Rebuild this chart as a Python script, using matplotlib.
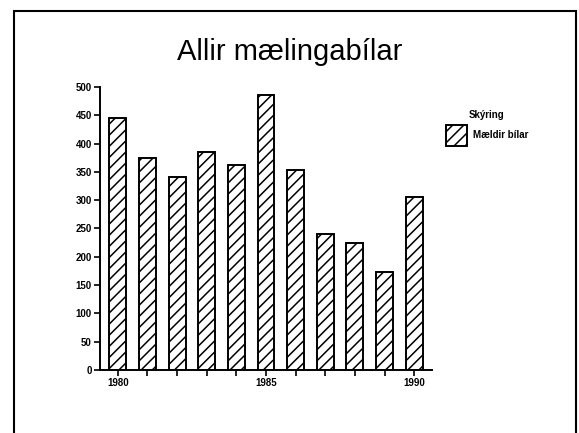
import matplotlib
matplotlib.use("Agg")
from matplotlib import pyplot as plt
from matplotlib.patches import Rectangle

years = [1980, 1981, 1982, 1983, 1984, 1985, 1986, 1987, 1988, 1989, 1990]
values = [446, 374, 341, 386, 362, 486, 354, 241, 224, 174, 306]
year_labels = ["1980", "", "", "", "", "1985", "", "", "", "", "1990"]
yticks = [0, 50, 100, 150, 200, 250, 300, 350, 400, 450, 500]

plt.rcParams['font.family'] = ['Liberation Sans', 'DejaVu Sans']
plt.rcParams['hatch.linewidth'] = 1.1

fig = plt.figure(figsize=(5.79, 4.33), dpi=100)

# slide frame
fig.patches.append(Rectangle((14/579, -0.05), (576-14)/579, 1.05 - 11/433,
                             transform=fig.transFigure, fill=False,
                             edgecolor="black", linewidth=1.5))

fig.text(0.5, 1 - 52/433, "Allir mælingabílar", ha="center", va="center",
         fontsize=21)

ax = fig.add_axes([100/579, 1 - 370/433, (432-100)/579, (370-87)/433])
ax.bar(years, values, width=0.57, color="white", edgecolor="black",
       linewidth=1.4, hatch="///", label="Mældir bílar")

ax.set_xlim(1979.4, 1990.6)
ax.set_ylim(0, 500)
ax.set_xticks(years)
ax.set_xticklabels(year_labels)
ax.set_yticks(yticks)
ax.tick_params(axis="both", direction="out", length=4, width=1.2,
               labelsize=7, pad=2)
for lbl in ax.get_xticklabels() + ax.get_yticklabels():
    lbl.set_fontweight("bold")
for s in ["top", "right"]:
    ax.spines[s].set_visible(False)
for s in ["left", "bottom"]:
    ax.spines[s].set_linewidth(1.4)

leg = fig.legend(loc="upper left", bbox_to_anchor=(441/579, 1 - 105/433),
                 frameon=False, title="Skýring", handlelength=2.15,
                 handleheight=2.95, handletextpad=0.6, borderpad=0,
                 prop={"size": 7, "weight": "bold"},
                 title_fontproperties={"size": 7, "weight": "bold"})

fig.savefig("out.png", dpi=100)
